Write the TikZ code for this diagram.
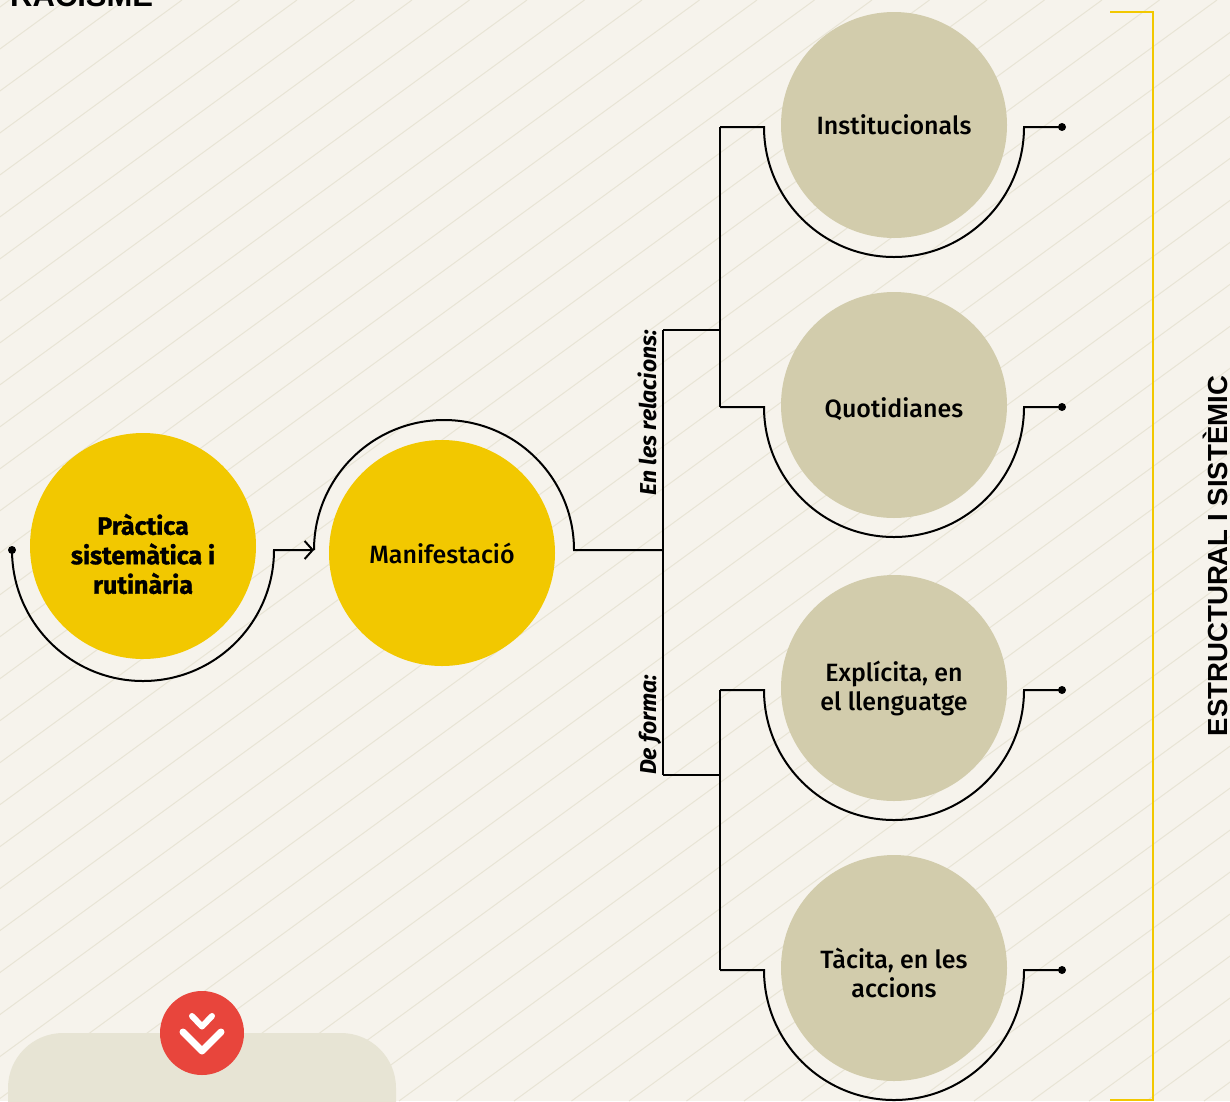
\documentclass[tikz,border=0pt]{standalone}
\usepackage{fontspec}
\setmainfont{Fira Sans}
\newfontfamily\fmed{Fira Sans Medium}
\newfontfamily\fxb{Fira Sans}[BoldFeatures={FakeBold=1.2}]
\newfontfamily\lsans{Liberation Sans}
\usetikzlibrary{arrows.meta,calc}
\definecolor{bg}{HTML}{F6F3EC}
\definecolor{bgline}{HTML}{E8E4D5}
\definecolor{yel}{HTML}{F2C800}
\definecolor{beige}{HTML}{D2CCAC}
\definecolor{redb}{HTML}{E8453C}
\definecolor{panel}{HTML}{E7E4D4}
\begin{document}
\begin{tikzpicture}[x=1pt,y=1pt,
  ycirc/.style={circle,fill=yel,minimum size=226pt,inner sep=0pt,align=center,font=\fmed\fontsize{25}{29.5}\selectfont},
  bcirc/.style={circle,fill=beige,minimum size=226pt,inner sep=0pt,align=center,font=\fmed\fontsize{25}{29}\selectfont},
  conn/.style={line width=2pt,black},
  enddot/.style={circle,fill=black,inner sep=0pt,minimum size=8pt},
  sidelabel/.style={rotate=90,inner sep=0pt,font=\fontsize{23}{23}\selectfont\bfseries\itshape}]
\useasboundingbox (0,0) rectangle (1230,-1101);
\fill[bg] (0,0) rectangle (1230,-1101);
\begin{scope}
\clip (0,0) rectangle (1230,-1101);
\foreach \k in {-1,...,47}{
  \pgfmathsetmacro{\c}{-1441+57.5*\k}
  \draw[bgline,line width=1pt] (\c,-1101) -- ++(1508,1101);
}
\fill[panel,rounded corners=55pt] (8,-1033) rectangle (396,-1180);
\end{scope}
% title
\node[anchor=base west,inner sep=0pt,font=\lsans\bfseries\fontsize{31}{31}\selectfont] (title) at (10,-6) {RACISME};
% yellow bracket
\draw[yel,line width=2.5pt] (1110,-12) -- (1153,-12) -- (1153,-1100) -- (1110,-1100);
\node[rotate=90,anchor=base,inner sep=0pt,font=\lsans\bfseries\fontsize{27.6}{27.6}\selectfont] (side) at (1227,-556) {ESTRUCTURAL I SISTÈMIC};
% circles
\node[ycirc] (p) at (143,-546) {};
\node[align=center,font=\fxb\bfseries\fontsize{25}{29.5}\selectfont] (ptext) at (143,-554) {Pràctica\\sistemàtica i\\rutinària};
\node[ycirc] (m) at (442,-553) {Manifestació};
\node[bcirc] (i1) at (894,-125) {Institucionals};
\node[bcirc] (q) at (894,-405) {};
\node[font=\fmed\fontsize{25}{29}\selectfont] (qtext) at (894,-409) {Quotidianes};
\node[bcirc] (e) at (894,-688) {Explícita, en\\el llenguatge};
\node[bcirc] (t) at (894,-968) {};
\node[align=center,font=\fmed\fontsize{25}{29}\selectfont] (ttext) at (894,-973) {Tàcita, en les\\accions};
% connectors
\draw[conn,-{Straight Barb[length=8pt,width=18pt,line width=2pt]}] ($(p.center)+(-131,-4)$) node[enddot] (pdot) {} arc[start angle=180,end angle=360,radius=131] -- ++(40,0) coordinate (arrtip);
\draw[conn] (arrtip) arc[start angle=180,end angle=0,radius=130] -- (663,-550) coordinate (hub);
\coordinate (upj) at (663,-330);
\coordinate (loj) at (663,-775);
\draw[conn] (upj) -- (loj);
\draw[conn] (upj) -- (720,-330);
\draw[conn] (loj) -- (720,-775);
\draw[conn] (720,-127) -- (720,-407);
\draw[conn] (720,-690) -- (720,-970);
\foreach \n/\y in {i1/127,q/407,e/690,t/970}{
  \draw[conn] (720,-\y) -- (764,-\y) arc[start angle=180,end angle=360,radius=130] -- (1062,-\y) node[enddot] (\n dot) {};
}
\node[sidelabel,anchor=base east] (lab1) at (656,-330) {En les relacions:};
\node[sidelabel,anchor=base west] (lab2) at (656,-775) {De forma:};
% red button
\node[circle,fill=redb,minimum size=84pt,inner sep=0pt] (btn) at (202,-1033) {};
\draw[white,line width=6pt,line cap=round,line join=round] (192,-1016) -- (202,-1026.5) -- (212,-1016);
\draw[white,line width=7pt,line cap=round,line join=round] (183,-1032) -- (202,-1051) -- (221,-1032);
\end{tikzpicture}
\end{document}
